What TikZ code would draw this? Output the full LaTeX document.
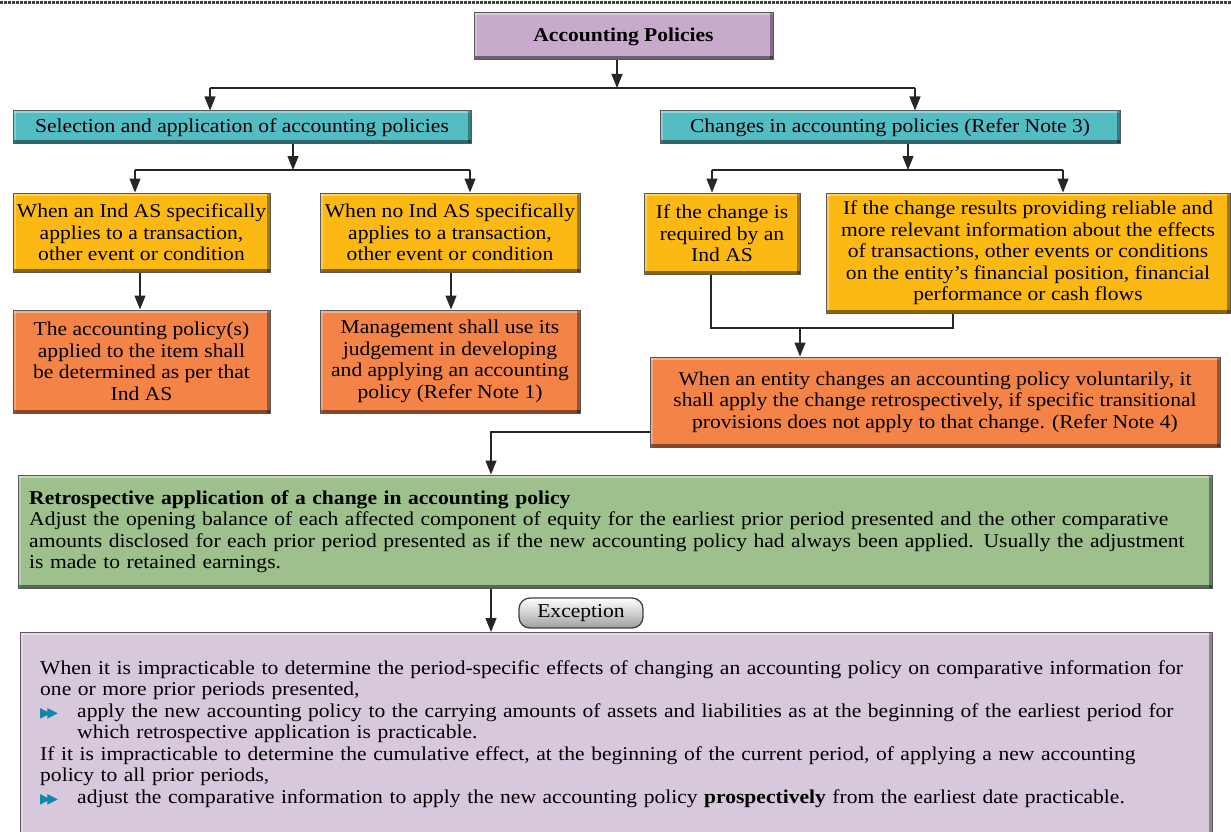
\documentclass[tikz,border=0pt]{standalone}
\usepackage{fontspec}
\setmainfont{Liberation Serif}[FakeStretch=1.1]
\newfontfamily\djv{DejaVu Sans}
\usetikzlibrary{arrows.meta}
\definecolor{cHdr}{RGB}{200,170,204}
\definecolor{cTeal}{RGB}{84,189,196}
\definecolor{cYel}{RGB}{253,185,19}
\definecolor{cOra}{RGB}{243,131,70}
\definecolor{cGrn}{RGB}{157,192,140}
\definecolor{cLav}{RGB}{216,200,220}
\definecolor{cBul}{RGB}{16,135,170}
\newcommand\fsz{\fontsize{19.6}{21.5}\selectfont}
\newcommand\bul{{\djv\fontsize{14}{14}\selectfont\color{cBul}▶\kern-3.5pt▶}}
\setlength\parindent{0pt}
\begin{document}
\begin{tikzpicture}[x=1pt,y=-1pt,
  conn/.style={draw=black!85, line width=1.1pt},
  arr/.style={conn, -{Triangle[width=11pt,length=14pt]}},
  bx/.style={draw=black!65, line width=1pt, fill=#1, inner sep=0pt, align=center, font=\fsz,
    path picture={
      \fill[white,opacity=0.35] (path picture bounding box.north west) rectangle ([yshift=-2.5pt]path picture bounding box.north east);
      \fill[white,opacity=0.25] (path picture bounding box.north west) rectangle ([xshift=2.5pt]path picture bounding box.south west);
      \fill[black,opacity=0.45] ([yshift=3.5pt]path picture bounding box.south west) rectangle (path picture bounding box.south east);
      \fill[black,opacity=0.35] ([xshift=-3.5pt]path picture bounding box.north east) rectangle (path picture bounding box.south east);
    }},
  btn/.style={draw=black!75, line width=1.3pt, rounded corners=11pt, top color=white, bottom color=gray!75,
    minimum width=124pt, minimum height=30pt, inner sep=0pt, font=\fsz},
  txt/.style={font=\fsz, align=left, inner sep=0pt, anchor=north west}
]
\useasboundingbox (0,0) rectangle (1231,832);
\draw[black!75, line width=3pt, dash pattern=on 2.5pt off 1.5pt] (0,2.5) -- (1231,2.5);

\node[bx=cHdr, minimum width=299pt, minimum height=47pt, font=\fsz\bfseries] (ap) at (623.5,36.5) {Accounting Policies};
\node[bx=cTeal, minimum width=458pt, minimum height=33pt] (sel) at (242,127.5) {Selection and application of accounting policies};
\node[bx=cTeal, minimum width=460pt, minimum height=33pt] (chg) at (890,127.5) {Changes in accounting policies (Refer Note 3)};
\node[bx=cYel, minimum width=257pt, minimum height=79pt] (y1) at (141.5,232.5) {When an Ind AS specifically\\applies to a transaction,\\other event or condition};
\node[bx=cYel, minimum width=260pt, minimum height=79pt] (y2) at (450,232.5) {When no Ind AS specifically\\applies to a transaction,\\other event or condition};
\node[bx=cOra, minimum width=257pt, minimum height=103pt] (o1) at (141.5,361.5) {The accounting policy(s)\\applied to the item shall\\be determined as per that\\Ind AS};
\node[bx=cOra, minimum width=260pt, minimum height=103pt] (o2) at (450,361.5) {Management shall use its\\judgement in developing\\and applying an accounting\\policy (Refer Note 1)};
\node[bx=cYel, minimum width=156pt, minimum height=81pt] (y3) at (722,233.5) {If the change is\\required by an\\Ind AS};
\node[bx=cYel, minimum width=404pt, minimum height=120pt] (y4) at (1028,253) {If the change results providing reliable and\\more relevant information about the effects\\of transactions, other events or conditions\\on the entity’s financial position, financial\\performance or cash flows};
\node[bx=cOra, minimum width=570pt, minimum height=90pt] (o3) at (935,402) {When an entity changes an accounting policy voluntarily, it\\shall apply the change retrospectively, if specific transitional\\provisions does not apply to that change. (Refer Note 4)};

\node[bx=cGrn, minimum width=1194pt, minimum height=113pt] (g) at (615,531.5) {};
\node[txt, text width=1180pt] (gt) at (29,490) {\textbf{Retrospective application of a change in accounting policy}\\
Adjust the opening balance of each affected component of equity for the earliest prior period presented and the other comparative\\
amounts disclosed for each prior period presented as if the new accounting policy had always been applied. Usually the adjustment\\
is made to retained earnings.};

\node[btn] (exc) at (581,613) {Exception};

\node[bx=cLav, minimum width=1192pt, minimum height=205pt, anchor=north west] (l) at (20,632) {};
\node[txt, text width=1185pt] (lt) at (40,660) {When it is impracticable to determine the period-specific effects of changing an accounting policy on comparative information for\\
one or more prior periods presented,\\
\makebox[37pt][l]{\bul}apply the new accounting policy to the carrying amounts of assets and liabilities as at the beginning of the earliest period for\\
\hspace*{37pt}which retrospective application is practicable.\\
If it is impracticable to determine the cumulative effect, at the beginning of the current period, of applying a new accounting\\
policy to all prior periods,\\
\makebox[37pt][l]{\bul}adjust the comparative information to apply the new accounting policy \textbf{prospectively} from the earliest date practicable.};

% connectors
\coordinate (j0) at (617,88);
\coordinate (b1l) at (210,88);
\coordinate (b1r) at (915,88);
\draw[arr] (ap.south -| j0) -- (j0);
\draw[conn] (b1l) -- (b1r);
\draw[arr] (b1l) -- (b1l |- sel.north);
\draw[arr] (b1r) -- (b1r |- chg.north);

\coordinate (j1) at (293,170);
\coordinate (b2l) at (135,170);
\coordinate (b2r) at (470,170);
\draw[arr] (sel.south -| j1) -- (j1);
\draw[conn] (b2l) -- (b2r);
\draw[arr] (b2l) -- (b2l |- y1.north);
\draw[arr] (b2r) -- (b2r |- y2.north);

\coordinate (j2) at (908,170);
\coordinate (b3l) at (712,170);
\coordinate (b3r) at (1063,170);
\draw[arr] (chg.south -| j2) -- (j2);
\draw[conn] (b3l) -- (b3r);
\draw[arr] (b3l) -- (b3l |- y3.north);
\draw[arr] (b3r) -- (b3r |- y4.north);

\coordinate (k1) at (140,300);
\coordinate (k2) at (451,300);
\draw[arr] (y1.south -| k1) -- (o1.north -| k1);
\draw[arr] (y2.south -| k2) -- (o2.north -| k2);

\coordinate (c1) at (711,328);
\coordinate (c2) at (953,328);
\coordinate (m) at (800,328);
\draw[conn] (y3.south -| c1) -- (c1) -- (c2) -- (y4.south -| c2);
\draw[arr] (m) -- (m |- o3.north);

\coordinate (c3) at (491,432);
\draw[arr] (o3.west |- c3) -- (c3) -- (c3 |- g.north);
\draw[arr] (g.south -| c3) -- (c3 |- l.north);
\end{tikzpicture}
\end{document}
